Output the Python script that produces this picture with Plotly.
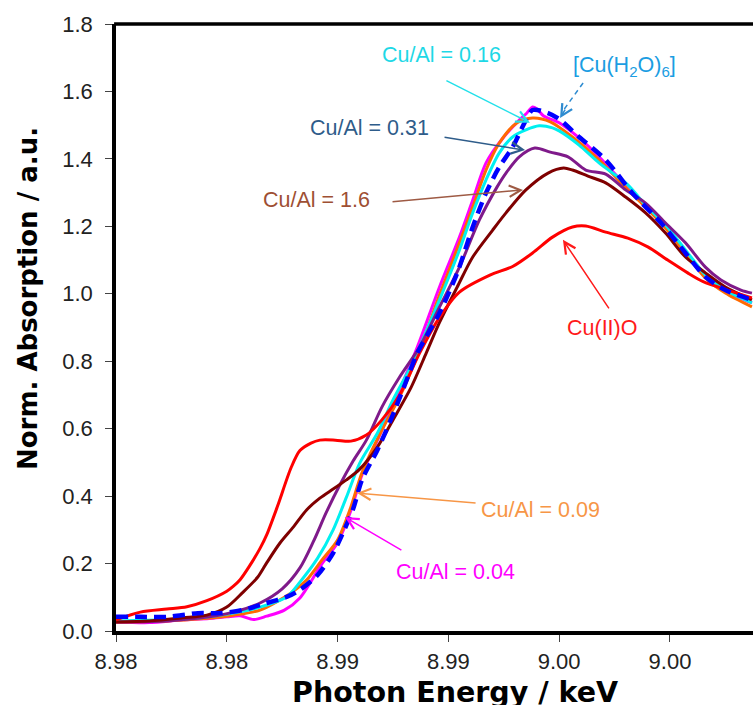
import plotly.graph_objects as go

# ---------------- data (energy in keV, normalised absorption) ----------------
cuo_E = [8.9750, 8.9761, 8.9773, 8.9782, 8.9791, 8.9800, 8.9803, 8.9806, 8.9810, 8.9815,
         8.9818, 8.9823, 8.9829, 8.9833, 8.9838, 8.9842, 8.9849, 8.9856, 8.9863, 8.9870,
         8.9878, 8.9887, 8.9896, 8.9905, 8.9919, 8.9929, 8.9938, 8.9947, 8.9956, 8.9962,
         8.9971, 8.9981, 8.9990, 8.9999, 9.0008, 9.0015, 9.0026, 9.0037]
cuo_A = [0.033, 0.056, 0.065, 0.072, 0.090, 0.118, 0.133, 0.152, 0.190, 0.245,
         0.285, 0.372, 0.484, 0.535, 0.557, 0.566, 0.566, 0.563, 0.581, 0.626,
         0.700, 0.824, 0.930, 1.005, 1.056, 1.081, 1.121, 1.168, 1.198, 1.201,
         1.183, 1.165, 1.139, 1.100, 1.062, 1.036, 1.011, 0.988]

r16_E = [8.9750, 8.9765, 8.9780, 8.9791, 8.9800, 8.9807, 8.9814, 8.9818, 8.9824, 8.9830,
         8.9836, 8.9842, 8.9848, 8.9854, 8.9860, 8.9868, 8.9875, 8.9883, 8.9890, 8.9896,
         8.9904, 8.9911, 8.9920, 8.9926, 8.9935, 8.9945, 8.9952, 8.9956, 8.9963, 8.9971,
         8.9980, 8.9989, 8.9998, 9.0007, 9.0016, 9.0025, 9.0037]
r16_A = [0.027, 0.030, 0.039, 0.047, 0.071, 0.113, 0.160, 0.202, 0.261, 0.308,
         0.359, 0.394, 0.421, 0.448, 0.480, 0.546, 0.626, 0.720, 0.824, 0.915,
         1.020, 1.109, 1.189, 1.240, 1.308, 1.358, 1.373, 1.367, 1.349, 1.329,
         1.287, 1.240, 1.180, 1.109, 1.062, 1.020, 0.982]

r031_E = [8.9750, 8.9773, 8.9792, 8.9803, 8.9815, 8.9825, 8.9833, 8.9839, 8.9845, 8.9851,
          8.9857, 8.9863, 8.9870, 8.9878, 8.9887, 8.9896, 8.9905, 8.9914, 8.9922, 8.9926,
          8.9932, 8.9939, 8.9946, 8.9954, 8.9962, 8.9971, 8.9980, 8.9989, 8.9998, 9.0007,
          9.0016, 9.0023, 9.0032, 9.0037]
r031_A = [0.027, 0.030, 0.042, 0.056, 0.083, 0.125, 0.187, 0.264, 0.353, 0.433,
          0.504, 0.566, 0.664, 0.753, 0.842, 0.961, 1.079, 1.219, 1.317, 1.358,
          1.406, 1.432, 1.420, 1.406, 1.367, 1.355, 1.308, 1.269, 1.210, 1.151,
          1.079, 1.041, 1.011, 1.002]

r016_E = [8.9750, 8.9773, 8.9788, 8.9803, 8.9815, 8.9827, 8.9833, 8.9841, 8.9848, 8.9854,
          8.9860, 8.9868, 8.9875, 8.9883, 8.9887, 8.9896, 8.9905, 8.9911, 8.9917, 8.9923,
          8.9929, 8.9935, 8.9941, 8.9947, 8.9950, 8.9959, 8.9968, 8.9981, 8.9989, 8.9998,
          9.0007, 9.0016, 9.0025, 9.0037]
r016_A = [0.030, 0.033, 0.039, 0.053, 0.071, 0.101, 0.145, 0.216, 0.300, 0.397,
          0.498, 0.587, 0.685, 0.783, 0.842, 0.982, 1.130, 1.240, 1.338, 1.418,
          1.465, 1.486, 1.498, 1.492, 1.483, 1.441, 1.388, 1.323, 1.263, 1.204,
          1.130, 1.056, 1.011, 0.973]

r009_E = [8.9750, 8.9773, 8.9788, 8.9803, 8.9815, 8.9829, 8.9836, 8.9843, 8.9850, 8.9856,
          8.9861, 8.9870, 8.9878, 8.9887, 8.9896, 8.9905, 8.9911, 8.9917, 8.9923, 8.9931,
          8.9938, 8.9946, 8.9956, 8.9968, 8.9981, 8.9989, 8.9998, 9.0007, 9.0016, 9.0025,
          9.0037]
r009_A = [0.027, 0.030, 0.036, 0.047, 0.062, 0.113, 0.151, 0.211, 0.270, 0.368,
          0.469, 0.596, 0.694, 0.833, 0.996, 1.151, 1.257, 1.367, 1.447, 1.507,
          1.521, 1.510, 1.465, 1.397, 1.308, 1.257, 1.195, 1.121, 1.047, 1.002,
          0.961]

r004_E = [8.9750, 8.9765, 8.9780, 8.9792, 8.9800, 8.9806, 8.9812, 8.9818, 8.9826, 8.9833,
          8.9843, 8.9850, 8.9856, 8.9861, 8.9869, 8.9878, 8.9886, 8.9896, 8.9905, 8.9911,
          8.9917, 8.9925, 8.9932, 8.9935, 8.9938, 8.9940, 8.9943, 8.9950, 8.9959, 8.9968,
          8.9981, 8.9989, 8.9998, 9.0007, 9.0016, 9.0025, 9.0037]
r004_A = [0.027, 0.025, 0.033, 0.037, 0.042, 0.045, 0.034, 0.044, 0.062, 0.098,
          0.200, 0.262, 0.357, 0.463, 0.581, 0.715, 0.842, 1.020, 1.168, 1.278,
          1.388, 1.465, 1.515, 1.533, 1.554, 1.548, 1.527, 1.507, 1.462, 1.406,
          1.314, 1.263, 1.201, 1.124, 1.050, 1.008, 0.973]

hyd_E = [8.9750, 8.9761, 8.9773, 8.9787, 8.9797, 8.9807, 8.9818, 8.9827, 8.9833, 8.9841,
         8.9848, 8.9852, 8.9857, 8.9861, 8.9868, 8.9874, 8.9880, 8.9886, 8.9896, 8.9904,
         8.9911, 8.9917, 8.9923, 8.9929, 8.9935, 8.9938, 8.9945, 8.9950, 8.9959, 8.9971,
         8.9983, 8.9996, 9.0007, 9.0016, 9.0025, 9.0037]
hyd_A = [0.042, 0.042, 0.042, 0.053, 0.053, 0.062, 0.083, 0.101, 0.122, 0.166,
         0.231, 0.285, 0.362, 0.448, 0.537, 0.626, 0.724, 0.824, 0.943, 1.062,
         1.198, 1.299, 1.376, 1.435, 1.515, 1.545, 1.536, 1.518, 1.465, 1.397,
         1.299, 1.210, 1.121, 1.050, 1.011, 0.982]

x_tick_vals = [8.975, 8.980, 8.985, 8.990, 8.995, 9.000]
x_tick_text = ["8.98", "8.98", "8.99", "8.99", "9.00", "9.00"]
y_tick_vals = [0.0, 0.2, 0.4, 0.6, 0.8, 1.0, 1.2, 1.4, 1.6, 1.8]

# ---------------- figure ----------------
FONT = "Liberation Sans, Arial, sans-serif"
TFONT = "DejaVu Sans, sans-serif"
fig = go.Figure()

series = [
    (r004_E, r004_A, "Cu/Al = 0.04", "#FF00FF", 3, None),
    (r009_E, r009_A, "Cu/Al = 0.09", "#FF6A00", 3, None),
    (r016_E, r016_A, "Cu/Al = 0.16", "#00F0F0", 3, None),
    (r031_E, r031_A, "Cu/Al = 0.31", "#7F1A8A", 3, None),
    (r16_E, r16_A, "Cu/Al = 1.6", "#7F0000", 3, None),
    (cuo_E, cuo_A, "Cu(II)O", "#FF0000", 3, None),
    (hyd_E, hyd_A, "[Cu(H2O)6]", "#0000FF", 4.5, "12px,7px"),
]
for ex, ay_, name, col, w, dash in series:
    fig.add_trace(go.Scatter(
        x=ex, y=ay_, mode="lines", name=name,
        line=dict(color=col, width=w, shape="spline", smoothing=0.8,
                  dash=dash if dash else "solid"),
        showlegend=False))

annotations = []
labels = [
    (8.98971, 1.708, "Cu/Al = 0.16", "#1ED8E6"),
    (8.99797, 1.673, "[Cu(H<sub>2</sub>O)<sub>6</sub>]", "#1B9DE2"),
    (8.98642, 1.492, "Cu/Al = 0.31", "#2E5C8A"),
    (8.98403, 1.278, "Cu/Al = 1.6", "#9E4F33"),
    (8.99693, 0.899, "Cu(II)O", "#FF1A1A"),
    (8.99414, 0.359, "Cu/Al = 0.09", "#F79646"),
    (8.99030, 0.175, "Cu/Al = 0.04", "#FF00FF"),
]
for lx, ly, txt, col in labels:
    annotations.append(dict(x=lx, y=ly, xref="x", yref="y", text=txt, showarrow=False,
                            font=dict(family=FONT, size=21.5, color=col),
                            xanchor="center", yanchor="middle"))

# arrows: tip (data), tail offset (pixels)
arrows = [
    (8.99368, 1.507, -85, -43, "#22E0EA"),
    (8.99346, 1.426, -82, -13, "#2E5C8A"),
    (8.99337, 1.308, -132, 12, "#9E5A44"),
    (8.99517, 1.160, 47, 70, "#FF1A1A"),
    (8.98588, 0.409, 120, 10, "#F79646"),
    (8.98533, 0.338, 58, 34, "#FF00FF"),
    (8.99504, 1.521, 6, -10, "#2E8BD0"),
]
for tx, ty, axp, ayp, col in arrows:
    annotations.append(dict(x=tx, y=ty, xref="x", yref="y", text="", showarrow=True,
                            ax=axp, ay=ayp, arrowhead=5, arrowsize=1.5, arrowwidth=1.5,
                            arrowcolor=col))

# axis titles
annotations.append(dict(x=0.532, y=-0.101, xref="paper", yref="paper",
                        text="<b>Photon Energy / keV</b>", showarrow=False,
                        font=dict(family=TFONT, size=28.5, color="black"),
                        xanchor="center", yanchor="middle"))
annotations.append(dict(x=-0.138, y=0.547, xref="paper", yref="paper",
                        text="<b>Norm. Absorption / a.u.</b>", showarrow=False,
                        textangle=-90,
                        font=dict(family=TFONT, size=26, color="black"),
                        xanchor="center", yanchor="middle"))

fig.update_layout(
    width=753, height=705,
    margin=dict(l=116, r=0, t=24, b=74, pad=0),
    paper_bgcolor="white", plot_bgcolor="white",
    annotations=annotations,
    shapes=[
        dict(type="line", xref="paper", yref="paper", x0=-0.003, x1=1.0, y0=1, y1=1,
             line=dict(color="black", width=3.5)),
        dict(type="line", xref="x", yref="y", x0=8.99608, y0=1.625, x1=8.99520, y1=1.545,
             line=dict(color="#2E8BD0", width=1.5, dash="5px,4px")),
    ],
    xaxis=dict(range=[8.975, 9.003748], showgrid=False, zeroline=False,
               showline=True, linecolor="black", linewidth=3.5,
               ticks="outside", ticklen=7, tickwidth=1, tickcolor="#444",
               tickvals=x_tick_vals, ticktext=x_tick_text, ticklabelstandoff=1,
               tickfont=dict(family=FONT, size=22, color="#222")),
    yaxis=dict(range=[0, 1.8], showgrid=False, zeroline=False,
               showline=True, linecolor="black", linewidth=3.5,
               ticks="outside", ticklen=7, tickwidth=1, tickcolor="#444",
               tickvals=y_tick_vals, tickformat=".1f", ticklabelstandoff=8,
               tickfont=dict(family=FONT, size=22, color="#222")),
)

fig.write_html("out.html")
